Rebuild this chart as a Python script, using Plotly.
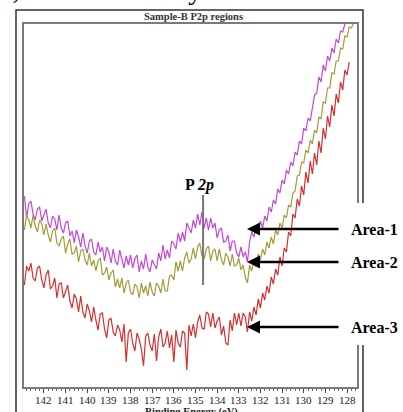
import plotly.graph_objects as go

# Binding-energy grid start/step (eV)
be_start = 142.9
be_step = 0.1

# Intensities (arbitrary units)
area1 = [191,169,183,186,173,167,178,180,166,173,
         178,164,159,171,168,157,172,159,154,164,
         166,151,156,144,157,150,140,154,141,134,
         146,148,135,132,145,135,140,126,140,135,
         124,138,126,122,137,128,119,131,122,132,
         119,128,132,115,126,118,133,120,115,127,
         123,118,134,126,142,128,137,129,146,143,
         138,154,145,155,146,164,159,154,167,159,
         173,162,175,159,169,157,169,159,164,149,
         157,159,145,146,152,136,146,146,134,130,
         140,130,135,125,145,155,150,160,153,166,
         159,171,166,180,175,187,183,198,194,207,
         203,217,213,225,221,235,232,246,243,259,
         256,269,266,278,292,294,310,305,322,316,
         331,326,339,334,348,344,356,355,363,366]

area2 = [157,172,167,159,172,161,155,167,163,152,
         163,152,145,156,159,144,141,148,151,134,
         143,148,133,134,141,125,136,138,127,122,
         134,121,127,116,126,129,112,114,120,107,
         114,117,100,108,99,109,94,104,107,95,
         92,103,100,89,104,94,101,91,105,95,
         91,104,101,94,108,96,96,111,112,107,
         125,116,126,116,129,135,124,128,139,128,
         140,144,131,128,138,141,126,136,138,126,
         138,127,122,134,130,121,133,121,122,129,
         117,122,110,104,122,116,127,120,133,127,
         138,132,145,139,150,143,157,152,164,159,
         172,169,182,180,194,196,211,212,225,224,
         237,234,247,243,257,254,270,268,285,284,
         299,299,314,313,326,326,339,338,351,350,
         360,359,364]

area3 = [102,121,116,124,109,106,119,121,107,99,
         112,117,98,101,109,89,103,104,89,96,
         102,86,79,93,88,75,91,75,69,83,
         76,65,80,67,57,73,74,58,49,67,
         69,55,51,62,57,45,63,25,54,58,
         44,36,54,48,38,21,51,54,42,36,
         53,26,50,58,40,44,56,39,52,25,
         57,44,40,56,54,17,62,51,63,49,
         65,72,59,58,75,73,60,74,59,66,
         70,52,61,44,42,67,56,74,62,74,
         61,74,70,55,75,66,80,72,88,79,
         94,87,101,94,110,103,118,112,130,121,
         139,135,155,151,173,169,188,181,201,192,
         215,204,226,213,234,222,246,234,259,248,
         271,260,282,271,293,284,305,297,317,312,
         325]

tick_vals = [142,141,140,139,138,137,136,135,134,133,132,131,130,129,128]
tick_text = [str(v) for v in tick_vals]

series_names = ["Area-1", "Area-2", "Area-3"]
series_colors = ["#c445d6", "#a09c38", "#d82e2e"]
label_levels = [158, 125, 60]
p2p_energy = 134.65

def grid(n):
    return [round(be_start - be_step * i, 2) for i in range(n)]

SERIF = "Liberation Serif"
fig = go.Figure()
for name, vals, col in zip(series_names, [area1, area2, area3], series_colors):
    fig.add_trace(go.Scatter(x=grid(len(vals)), y=vals, mode="lines", name=name,
                             line=dict(color=col, width=1.2), showlegend=False))

W, H = 403, 412
L, R, T, B = 24, 46, 24, 25
pw, ph = W - L - R, H - T - B

def px(xp):
    return (xp - L) / pw

def py(yp):
    return (H - B - yp) / ph

fig.update_layout(
    template="none",
    width=W, height=H,
    margin=dict(l=L, r=R, t=T, b=B, pad=0, autoexpand=False),
    paper_bgcolor="white", plot_bgcolor="white",
    xaxis=dict(range=[142.92, 127.54], tickvals=tick_vals, showticklabels=False,
               ticks="outside", ticklen=4, tickcolor="#444", tickwidth=1,
               minor=dict(dtick=0.2, ticks="outside", ticklen=2, tickcolor="#666", tickwidth=1),
               showline=True, mirror=True, linecolor="#7a7a7a", linewidth=1.5,
               showgrid=False, zeroline=False, automargin=False),
    yaxis=dict(range=[0, 363], showticklabels=False, ticks="",
               showline=True, mirror=True, linecolor="#7a7a7a", linewidth=1.5,
               showgrid=False, zeroline=False, automargin=False),
)

shapes = [
    # outer frame
    dict(type="rect", xref="paper", yref="paper", x0=px(16), x1=px(363), y0=py(425), y1=py(10),
         line=dict(color="#333", width=1.5), fillcolor="rgba(0,0,0,0)", layer="above"),
    # white panel behind labels
    dict(type="rect", xref="paper", yref="paper", x0=px(345), x1=px(410), y0=py(345), y1=py(203),
         line=dict(width=0), fillcolor="white", layer="above"),
    # P 2p marker
    dict(type="line", xref="x", yref="y", x0=p2p_energy, x1=p2p_energy, y0=102, y1=192,
         line=dict(color="#777", width=2)),
]
fig.update_layout(shapes=shapes)

ann = []
# tick labels placed just under the axis
for v, t in zip(tick_vals, tick_text):
    ann.append(dict(text=t, xref="x", yref="paper", x=v, y=py(399.5),
                    xanchor="center", yanchor="middle", showarrow=False,
                    font=dict(family=SERIF, size=11, color="#222")))
ann.append(dict(text="<b>Sample-B P2p regions</b>", xref="paper", yref="paper",
                x=px(193), y=py(17), xanchor="center", yanchor="middle", showarrow=False,
                font=dict(family=SERIF, size=10.5, color="#333")))
ann.append(dict(text="<b>Binding Energy (eV)</b>", xref="paper", yref="paper",
                x=px(191), y=py(404), xanchor="center", yanchor="top", showarrow=False,
                font=dict(family=SERIF, size=10.5, color="#222")))
ann.append(dict(text="e, is confirmed by XPS.", xref="paper", yref="paper",
                x=px(-2), y=py(7), xanchor="left", yanchor="bottom", showarrow=False,
                font=dict(family=SERIF, size=28, color="black")))
ann.append(dict(text="<b>P <i>2p</i></b>", xref="x", yref="y", x=134.83, y=202,
                xanchor="center", yanchor="middle", showarrow=False,
                font=dict(family=SERIF, size=16, color="black")))
for name, lv in zip(series_names, label_levels):
    ann.append(dict(text="", xref="x", yref="y", x=132.62, y=lv, ax=93, ay=0,
                    showarrow=True, arrowhead=2, arrowsize=1, arrowwidth=2.6,
                    arrowcolor="black"))
    ann.append(dict(text="<b>" + name + "</b>", xref="paper", yref="y", x=px(349), y=lv,
                    xanchor="left", yanchor="middle", showarrow=False,
                    font=dict(family=SERIF, size=16, color="black")))
fig.update_layout(annotations=ann)

fig.write_html("out.html")
